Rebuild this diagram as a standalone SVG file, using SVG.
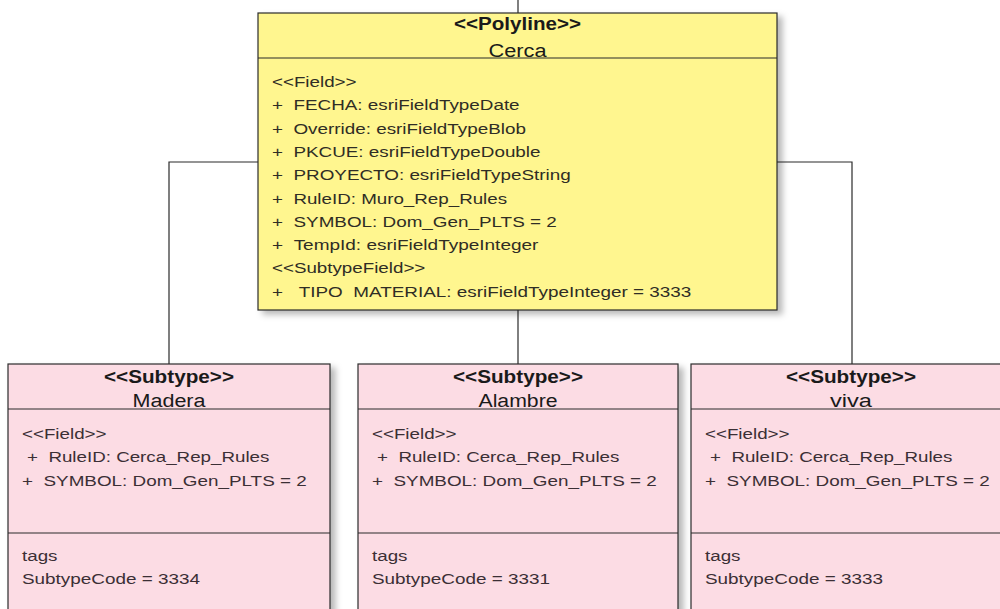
<svg xmlns="http://www.w3.org/2000/svg" width="1000" height="609" viewBox="0 0 1000 609">
<defs>
<filter id="sh" x="-5%" y="-5%" width="115%" height="115%">
<feDropShadow dx="5" dy="4" stdDeviation="3" flood-color="#000" flood-opacity="0.28"/>
</filter>
</defs>
<style>
.box{stroke:#2b2b2b;stroke-width:1.2;}
.yel{fill:#FFF68F;}
.pink{fill:#FCDCE4;}
.div{stroke:#2b2b2b;stroke-width:1.2;fill:none;}
.con{stroke:#2b2b2b;stroke-width:1.2;fill:none;}
.st{font-family:"Liberation Sans Narrow","Liberation Sans",Arial,sans-serif;font-size:18px;font-weight:bold;fill:#1a1a1a;text-anchor:middle;}
.nm{font-family:"Liberation Sans Narrow","Liberation Sans",Arial,sans-serif;font-size:18px;fill:#1a1a1a;text-anchor:middle;}
.tx{font-family:"Liberation Sans",Arial,sans-serif;font-size:14px;fill:#2f2d25;}
.tp{font-family:"Liberation Sans",Arial,sans-serif;font-size:14px;fill:#3b2f35;}
</style>
<rect width="1000" height="609" fill="#ffffff"/>
<g id="connectors">
<line class="con" x1="518" y1="0" x2="518" y2="13"/>
<line class="con" x1="518" y1="310" x2="518" y2="364"/>
<polyline class="con" points="258,162 169,162 169,364"/>
<polyline class="con" points="777,162 852,162 852,364"/>
</g>
<g id="node-cerca">
<rect class="box yel" x="258" y="13" width="519" height="297" filter="url(#sh)"/>
<line class="div" x1="258" y1="58" x2="777" y2="58"/>
<text class="st" x="517.5" y="30" textLength="127" lengthAdjust="spacingAndGlyphs">&lt;&lt;Polyline&gt;&gt;</text>
<text class="nm" x="517.5" y="57" textLength="58" lengthAdjust="spacingAndGlyphs">Cerca</text>
<text class="tx" x="272" y="87" textLength="84.5" lengthAdjust="spacingAndGlyphs">&lt;&lt;Field&gt;&gt;</text>
<text class="tx" x="272" y="110.3" textLength="247.6" lengthAdjust="spacingAndGlyphs">+ &#160;FECHA: esriFieldTypeDate</text>
<text class="tx" x="272" y="133.6" textLength="253.9" lengthAdjust="spacingAndGlyphs">+ &#160;Override: esriFieldTypeBlob</text>
<text class="tx" x="272" y="156.9" textLength="268.5" lengthAdjust="spacingAndGlyphs">+ &#160;PKCUE: esriFieldTypeDouble</text>
<text class="tx" x="272" y="180.2" textLength="298.7" lengthAdjust="spacingAndGlyphs">+ &#160;PROYECTO: esriFieldTypeString</text>
<text class="tx" x="272" y="203.5" textLength="235.1" lengthAdjust="spacingAndGlyphs">+ &#160;RuleID: Muro_Rep_Rules</text>
<text class="tx" x="272" y="226.8" textLength="284.7" lengthAdjust="spacingAndGlyphs">+ &#160;SYMBOL: Dom_Gen_PLTS = 2</text>
<text class="tx" x="272" y="250.1" textLength="266.4" lengthAdjust="spacingAndGlyphs">+ &#160;TempId: esriFieldTypeInteger</text>
<text class="tx" x="272" y="273.4" textLength="153.3" lengthAdjust="spacingAndGlyphs">&lt;&lt;SubtypeField&gt;&gt;</text>
<text class="tx" x="272" y="296.7" textLength="419.2" lengthAdjust="spacingAndGlyphs">+ &#160;&#160;TIPO &#160;MATERIAL: esriFieldTypeInteger = 3333</text>
</g>
<g id="node-madera">
<rect class="box pink" x="8" y="364" width="322" height="260" filter="url(#sh)"/>
<line class="div" x1="8" y1="409" x2="330" y2="409"/>
<line class="div" x1="8" y1="533" x2="330" y2="533"/>
<text class="st" x="169" y="383" textLength="130" lengthAdjust="spacingAndGlyphs">&lt;&lt;Subtype&gt;&gt;</text>
<text class="nm" x="169" y="407" textLength="73" lengthAdjust="spacingAndGlyphs">Madera</text>
<text class="tp" x="22" y="439" textLength="84.5" lengthAdjust="spacingAndGlyphs">&lt;&lt;Field&gt;&gt;</text>
<text class="tp" x="27" y="462.3" textLength="242.4" lengthAdjust="spacingAndGlyphs">+ &#160;RuleID: Cerca_Rep_Rules</text>
<text class="tp" x="22" y="485.6" textLength="284.7" lengthAdjust="spacingAndGlyphs">+ &#160;SYMBOL: Dom_Gen_PLTS = 2</text>
<text class="tp" x="22" y="561" textLength="35.5" lengthAdjust="spacingAndGlyphs">tags</text>
<text class="tp" x="22" y="584" textLength="178" lengthAdjust="spacingAndGlyphs">SubtypeCode = 3334</text>
</g>
<g id="node-alambre">
<rect class="box pink" x="358" y="364" width="320" height="260" filter="url(#sh)"/>
<line class="div" x1="358" y1="409" x2="678" y2="409"/>
<line class="div" x1="358" y1="533" x2="678" y2="533"/>
<text class="st" x="518" y="383" textLength="130" lengthAdjust="spacingAndGlyphs">&lt;&lt;Subtype&gt;&gt;</text>
<text class="nm" x="518" y="407" textLength="79" lengthAdjust="spacingAndGlyphs">Alambre</text>
<text class="tp" x="372" y="439" textLength="84.5" lengthAdjust="spacingAndGlyphs">&lt;&lt;Field&gt;&gt;</text>
<text class="tp" x="377" y="462.3" textLength="242.4" lengthAdjust="spacingAndGlyphs">+ &#160;RuleID: Cerca_Rep_Rules</text>
<text class="tp" x="372" y="485.6" textLength="284.7" lengthAdjust="spacingAndGlyphs">+ &#160;SYMBOL: Dom_Gen_PLTS = 2</text>
<text class="tp" x="372" y="561" textLength="35.5" lengthAdjust="spacingAndGlyphs">tags</text>
<text class="tp" x="372" y="584" textLength="178" lengthAdjust="spacingAndGlyphs">SubtypeCode = 3331</text>
</g>
<g id="node-viva">
<rect class="box pink" x="691" y="364" width="320" height="260" filter="url(#sh)"/>
<line class="div" x1="691" y1="409" x2="1011" y2="409"/>
<line class="div" x1="691" y1="533" x2="1011" y2="533"/>
<text class="st" x="851" y="383" textLength="130" lengthAdjust="spacingAndGlyphs">&lt;&lt;Subtype&gt;&gt;</text>
<text class="nm" x="851" y="407" textLength="42" lengthAdjust="spacingAndGlyphs">viva</text>
<text class="tp" x="705" y="439" textLength="84.5" lengthAdjust="spacingAndGlyphs">&lt;&lt;Field&gt;&gt;</text>
<text class="tp" x="710" y="462.3" textLength="242.4" lengthAdjust="spacingAndGlyphs">+ &#160;RuleID: Cerca_Rep_Rules</text>
<text class="tp" x="705" y="485.6" textLength="284.7" lengthAdjust="spacingAndGlyphs">+ &#160;SYMBOL: Dom_Gen_PLTS = 2</text>
<text class="tp" x="705" y="561" textLength="35.5" lengthAdjust="spacingAndGlyphs">tags</text>
<text class="tp" x="705" y="584" textLength="178" lengthAdjust="spacingAndGlyphs">SubtypeCode = 3333</text>
</g>
</svg>
